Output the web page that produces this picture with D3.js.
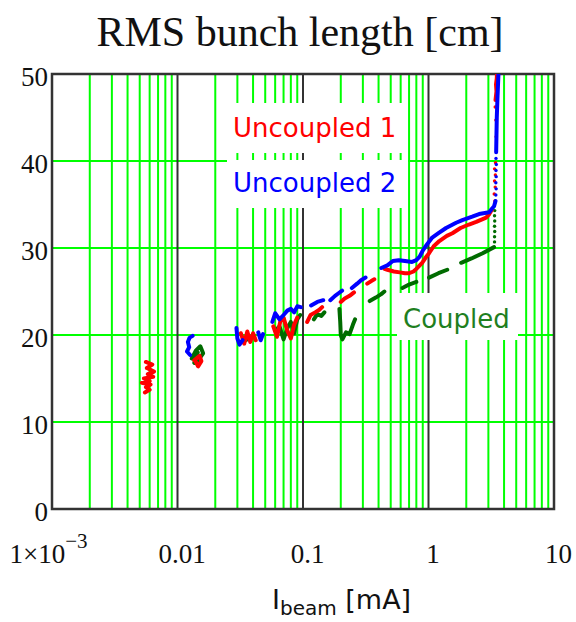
<!DOCTYPE html>
<html>
<head>
<meta charset="utf-8">
<script src="https://cdn.jsdelivr.net/npm/d3@7/dist/d3.min.js"></script>
<style>
  body { margin: 0; background: #fff; }
  svg { display: block; }
</style>
</head>
<body>
<svg width="576" height="622"></svg>
<script>
// beam current [mA] vs RMS bunch length [cm]; null breaks a run
const uncoupled1 = [
  [0.0056, 16.9], [0.0063, 16.6], [0.0057, 16.2], [0.0065, 15.8], [0.0058, 15.5],
  [0.0064, 15.2], [0.0054, 15.0], [0.0060, 14.7], [0.0052, 14.5], [0.0061, 14.3],
  [0.0056, 14.0], [0.0060, 13.7], [0.0055, 13.4],
  null,
  [0.0136, 17.1], [0.0150, 17.6], [0.0155, 17.0], [0.0146, 16.4], [0.0140, 16.9],
  null,
  [0.032, 20.2], [0.034, 19.0], [0.036, 20.4], [0.038, 19.2], [0.040, 20.2], [0.042, 19.4],
  null,
  [0.058, 21.0], [0.062, 19.8], [0.066, 21.6], [0.070, 22.0], [0.075, 20.5], [0.080, 19.6],
  [0.085, 21.2], [0.090, 22.0],
  null,
  [0.108, 21.5], [0.115, 22.3], [0.125, 22.6], [0.135, 22.9], [0.142, 23.2],
  null,
  [0.200, 23.8], [0.215, 24.2], [0.235, 24.5], [0.255, 24.9],
  null,
  [0.325, 25.9], [0.350, 26.2], [0.370, 26.4],
  null,
  [0.445, 27.6], [0.47, 27.5], [0.53, 27.3], [0.59, 27.2], [0.65, 27.1], [0.70, 27.1],
  [0.76, 27.3], [0.80, 27.6], [0.89, 28.3], [0.95, 28.9], [1.01, 29.4], [1.1, 30.2],
  [1.22, 30.8], [1.4, 31.4], [1.55, 31.7], [1.8, 32.3], [2.1, 32.7], [2.4, 33.0],
  [2.88, 33.5], [3.05, 33.9], [3.2, 34.4],
  null,
  [3.42, 47.0], [3.48, 48.0], [3.45, 48.8], [3.50, 49.5], [3.52, 50.5]
];
const uncoupled1Dots = [
  [3.38, 35.4], [3.34, 36.2], [3.40, 37.0], [3.36, 37.7], [3.41, 38.4], [3.36, 39.1],
  [3.42, 39.8], [3.46, 42.8], [3.44, 44.7], [3.40, 46.2]
];

const uncoupled2 = [
  [0.0132, 19.9], [0.0125, 19.7], [0.0121, 19.2], [0.0124, 18.6], [0.0119, 18.1], [0.0126, 17.7],
  null,
  [0.0295, 20.8], [0.0300, 19.6], [0.0312, 18.9], [0.0330, 19.4],
  null,
  [0.044, 20.3], [0.046, 19.4], [0.048, 20.1],
  null,
  [0.057, 21.5], [0.060, 22.5], [0.065, 21.8], [0.070, 22.3], [0.075, 22.8], [0.080, 23.0],
  [0.085, 22.6], [0.090, 23.3], [0.096, 23.2],
  null,
  [0.116, 23.4], [0.130, 23.8], [0.145, 24.0],
  null,
  [0.165, 24.0], [0.180, 24.5], [0.192, 24.8], [0.205, 25.1],
  null,
  [0.245, 25.4], [0.270, 25.9], [0.290, 26.3], [0.315, 26.6],
  null,
  [0.42, 27.7], [0.47, 28.0], [0.52, 28.5], [0.58, 28.6], [0.65, 28.5], [0.74, 28.4],
  [0.80, 28.6], [0.85, 29.0], [0.90, 29.7], [0.96, 30.3], [1.07, 31.2], [1.2, 31.7],
  [1.38, 32.3], [1.66, 32.9], [1.86, 33.2], [2.23, 33.6], [2.53, 33.9], [3.04, 34.1],
  [3.15, 34.4], [3.33, 34.8], [3.42, 35.4],
  null,
  [3.46, 41.0], [3.48, 43.0], [3.50, 45.0], [3.55, 47.5], [3.62, 50.5]
];
const uncoupled2Dots = [
  [3.44, 36.1], [3.46, 36.8], [3.44, 37.5], [3.46, 38.2], [3.45, 38.9], [3.47, 39.6], [3.45, 40.3]
];

const coupled = [
  [0.0130, 17.3], [0.0140, 18.2], [0.0152, 18.7], [0.0160, 17.9], [0.0148, 17.2], [0.0136, 16.8],
  [0.0145, 18.0],
  null,
  [0.034, 19.3], [0.037, 19.6],
  null,
  [0.060, 20.5], [0.065, 21.0], [0.070, 19.5], [0.075, 20.8], [0.080, 21.5], [0.085, 20.2],
  [0.090, 21.8], [0.095, 22.3],
  null,
  [0.122, 21.8], [0.130, 22.4], [0.140, 22.2], [0.148, 22.6],
  null,
  [0.195, 23.0], [0.198, 21.5], [0.200, 20.0], [0.206, 19.5], [0.220, 20.3], [0.235, 20.1],
  [0.250, 21.2], [0.260, 21.8],
  null,
  [0.34, 23.9], [0.38, 24.3], [0.42, 24.7], [0.445, 25.0],
  null,
  [0.62, 25.4], [0.70, 25.8], [0.80, 26.1],
  null,
  [1.01, 26.6], [1.2, 27.1], [1.41, 27.5],
  null,
  [1.82, 28.3], [2.2, 28.8], [2.7, 29.4], [3.33, 30.1]
];
const coupledDots = [
  [3.36, 30.7], [3.36, 31.3], [3.37, 31.9], [3.36, 32.5], [3.37, 33.1], [3.36, 33.7], [3.37, 34.3]
];

const xDecades = [0.001, 0.01, 0.1, 1, 10];
const xTickLabels = ['1×10', '0.01', '0.1', '1', '10'];
const yTicks = [0, 10, 20, 30, 40, 50];

const svg = d3.select('svg');
const margin = { left: 52, right: 554, top: 74, bottom: 509 };

const x = d3.scaleLog().domain([0.001, 10]).range([margin.left, margin.right]);
const y = d3.scaleLinear().domain([0, 50]).range([margin.bottom, margin.top]);

const gridGreen = '#00ff00';
const frameColor = '#333';

// minor log grid
const minor = [];
xDecades.slice(0, -1).forEach((d) => {
  for (let k = 2; k <= 9; k++) { minor.push(d * k); }
});

svg.append('g').selectAll('line')
  .data(minor)
  .enter().append('line')
  .attr('x1', (d) => x(d)).attr('x2', (d) => x(d))
  .attr('y1', margin.top).attr('y2', margin.bottom)
  .attr('stroke', gridGreen).attr('stroke-width', 2);

svg.append('g').selectAll('line')
  .data(yTicks.slice(1, -1))
  .enter().append('line')
  .attr('x1', margin.left).attr('x2', margin.right)
  .attr('y1', (d) => y(d)).attr('y2', (d) => y(d))
  .attr('stroke', gridGreen).attr('stroke-width', 2);

// decade lines
svg.append('g').selectAll('line')
  .data(xDecades.slice(1, -1))
  .enter().append('line')
  .attr('x1', (d) => x(d)).attr('x2', (d) => x(d))
  .attr('y1', margin.top).attr('y2', margin.bottom)
  .attr('stroke', frameColor).attr('stroke-width', 2);

svg.append('rect')
  .attr('x', margin.left).attr('y', margin.top)
  .attr('width', margin.right - margin.left)
  .attr('height', margin.bottom - margin.top)
  .attr('fill', 'none')
  .attr('stroke', frameColor).attr('stroke-width', 2.5);

// labels on white boxes
const labels = [
  { text: 'Uncoupled 1', color: '#ff0000', box: [227, 103, 181, 50], x: 233, y: 137 },
  { text: 'Uncoupled 2', color: '#0000ff', box: [227, 160, 181, 48], x: 233, y: 192 },
  { text: 'Coupled', color: '#1f7f1f', box: [397, 293, 121, 47], x: 403, y: 328 }
];

labels.forEach((l) => {
  svg.append('rect')
    .attr('x', l.box[0]).attr('y', l.box[1])
    .attr('width', l.box[2]).attr('height', l.box[3])
    .attr('fill', '#fff');
  svg.append('text')
    .attr('x', l.x).attr('y', l.y)
    .attr('fill', l.color)
    .style('font', '26px "DejaVu Sans"')
    .text(l.text);
});

// data
const plot = svg.append('g');
svg.append('clipPath').attr('id', 'clip')
  .append('rect')
  .attr('x', margin.left).attr('y', margin.top)
  .attr('width', margin.right - margin.left)
  .attr('height', margin.bottom - margin.top);
plot.attr('clip-path', 'url(#clip)');

const line = d3.line()
  .defined((d) => d)
  .x((d) => x(d[0]))
  .y((d) => y(d[1]));

const series = [
  { runs: coupled, dots: coupledDots, color: '#006b00' },
  { runs: uncoupled1, dots: uncoupled1Dots, color: '#ff0000' },
  { runs: uncoupled2, dots: uncoupled2Dots, color: '#0000ff' }
];

series.forEach((s) => {
  plot.append('path')
    .datum(s.runs)
    .attr('d', line)
    .attr('fill', 'none')
    .attr('stroke', s.color)
    .attr('stroke-width', 4)
    .attr('stroke-linejoin', 'round')
    .attr('stroke-linecap', 'round');

  plot.append('g').selectAll('circle')
    .data(s.dots)
    .enter().append('circle')
    .attr('cx', (d) => x(d[0]))
    .attr('cy', (d) => y(d[1]))
    .attr('r', 1.7)
    .attr('fill', s.color);
});

// axes
const yAxis = svg.append('g')
  .attr('transform', `translate(${margin.left},0)`)
  .call(d3.axisLeft(y).tickValues(yTicks).tickSize(0).tickPadding(4));
yAxis.select('.domain').remove();
yAxis.selectAll('text')
  .attr('dy', '0.32em')
  .attr('transform', 'translate(0,3)')
  .style('font', '27px "Liberation Serif"')
  .attr('fill', '#111');

const xAxis = svg.append('g')
  .attr('transform', `translate(0,${margin.bottom})`)
  .call(d3.axisBottom(x).tickValues(xDecades)
    .tickFormat((d, i) => xTickLabels[i]).tickSize(0).tickPadding(0));
xAxis.select('.domain').remove();
xAxis.selectAll('text')
  .attr('y', 54).attr('dy', 0)
  .attr('dx', 4)
  .style('font', '27px "Liberation Serif"')
  .attr('fill', '#111');
xAxis.selectAll('.tick').filter((d) => d === 0.001).select('text')
  .attr('dx', -4)
  .append('tspan')
  .attr('dy', -15)
  .style('font-size', '21px')
  .text('−3');

// title
svg.append('text')
  .attr('x', 300).attr('y', 46)
  .attr('text-anchor', 'middle')
  .style('font', '42px "Liberation Serif"')
  .attr('fill', '#111')
  .text('RMS bunch length [cm]');

// x label
const xl = svg.append('text')
  .attr('x', 272).attr('y', 609)
  .style('font', '27px "DejaVu Sans"')
  .attr('fill', '#111');
xl.append('tspan').text('I');
xl.append('tspan').attr('dy', 6).style('font-size', '20px').text('beam');
xl.append('tspan').attr('dy', -6).text(' [mA]');
</script>
</body>
</html>
